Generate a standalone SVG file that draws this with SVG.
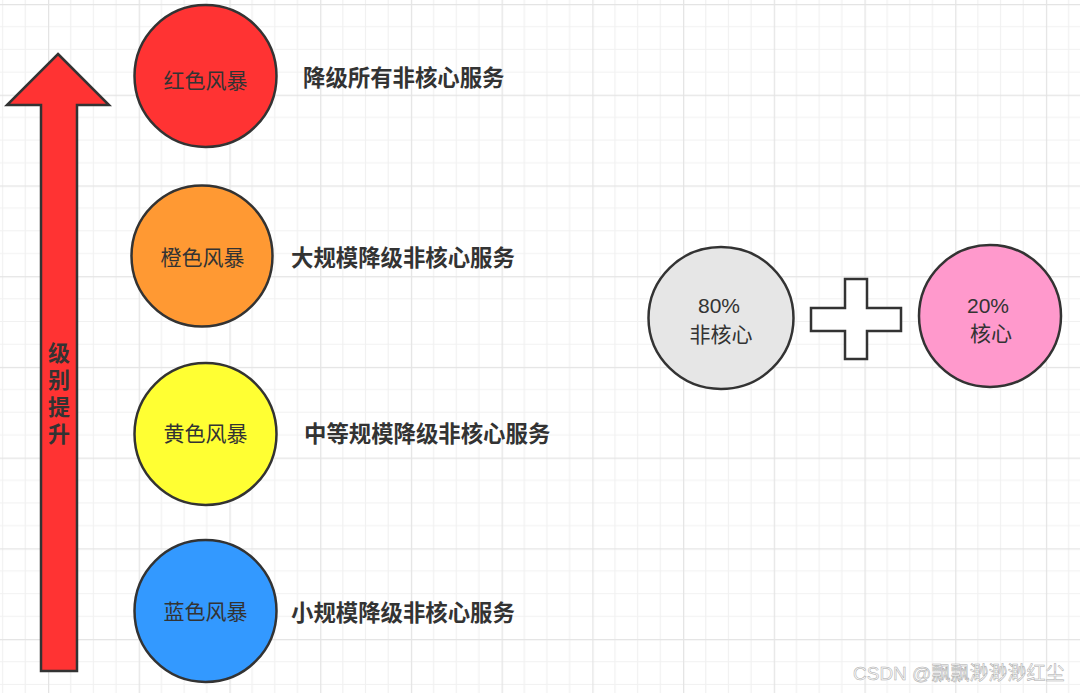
<svg xmlns="http://www.w3.org/2000/svg" width="1080" height="693" viewBox="0 0 1080 693">
<defs>
<pattern id="grid" x="48" y="4" width="90.72" height="90.72" patternUnits="userSpaceOnUse">
<path d="M22.68 0V90.72M45.36 0V90.72M68.04 0V90.72M0 22.68H90.72M0 45.36H90.72M0 68.04H90.72" fill="none" stroke="#f1f1f1" stroke-width="1.2"/>
<path d="M0.6 0V90.72M0 0.6H90.72" fill="none" stroke="#e4e4e4" stroke-width="1.3"/>
</pattern>
</defs>
<style>
.c{stroke:#333;stroke-width:2.5}
.ct{font-family:"Noto Sans CJK SC","Liberation Sans",sans-serif;font-size:21px;fill:#333;text-anchor:middle}
.pc{font-family:"Liberation Sans","Noto Sans CJK SC",sans-serif;font-size:21px;fill:#333;text-anchor:middle}
.lb{font-family:"Noto Sans CJK SC","Liberation Sans",sans-serif;font-size:22.4px;font-weight:bold;fill:#333}
.vt{font-family:"Noto Sans CJK SC","Liberation Sans",sans-serif;font-size:22px;font-weight:bold;fill:#333}
.wm{font-family:"Liberation Sans","Noto Sans CJK SC",sans-serif;font-size:19px;fill:#fafafa;stroke:#aaaaaa;stroke-width:0.5}
</style>
<rect width="1080" height="693" fill="#ffffff"/>
<rect width="1080" height="693" fill="url(#grid)"/>

<g id="arrow">
<polygon points="58,54 109,105 77,105 77,671 41,671 41,105 7,105" fill="#ff3333" class="c" stroke-linejoin="miter"/>
<text class="vt" x="59" y="342" writing-mode="vertical-rl" letter-spacing="5">级别提升</text>
</g>

<g id="red">
<circle cx="205.5" cy="76" r="71" fill="#ff3333" class="c"/>
<text class="ct" x="205.5" y="88">红色风暴</text>
</g>
<g id="red-label"><text class="lb" x="303" y="86">降级所有非核心服务</text></g>

<g id="orange">
<circle cx="202" cy="256" r="70.5" fill="#ff9933" class="c"/>
<text class="ct" x="202.5" y="265">橙色风暴</text>
</g>
<g id="orange-label"><text class="lb" x="291" y="266">大规模降级非核心服务</text></g>

<g id="yellow">
<circle cx="205.5" cy="434" r="71" fill="#ffff33" class="c"/>
<text class="ct" x="205.5" y="441">黄色风暴</text>
</g>
<g id="yellow-label"><text class="lb" x="304" y="442">中等规模降级非核心服务</text></g>

<g id="blue">
<circle cx="205.5" cy="611" r="71" fill="#3399ff" class="c"/>
<text class="ct" x="205.5" y="619">蓝色风暴</text>
</g>
<g id="blue-label"><text class="lb" x="291" y="621">小规模降级非核心服务</text></g>

<g id="noncore">
<ellipse cx="721" cy="318" rx="72.5" ry="71" fill="#e6e6e6" class="c"/>
<text class="pc" x="719" y="313">80%</text>
<text class="ct" x="721" y="342">非核心</text>
</g>

<g id="plus">
<polygon points="845,279 867,279 867,308 901,308 901,331 867,331 867,359 845,359 845,331 811,331 811,308 845,308" fill="#ffffff" class="c"/>
</g>

<g id="core">
<circle cx="990" cy="316" r="71" fill="#ff99cc" class="c"/>
<text class="pc" x="988" y="313">20%</text>
<text class="ct" x="991" y="341">核心</text>
</g>

<g id="connectors"></g>

<text class="wm" x="853" y="680">CSDN @飘飘渺渺渺红尘</text>
</svg>
